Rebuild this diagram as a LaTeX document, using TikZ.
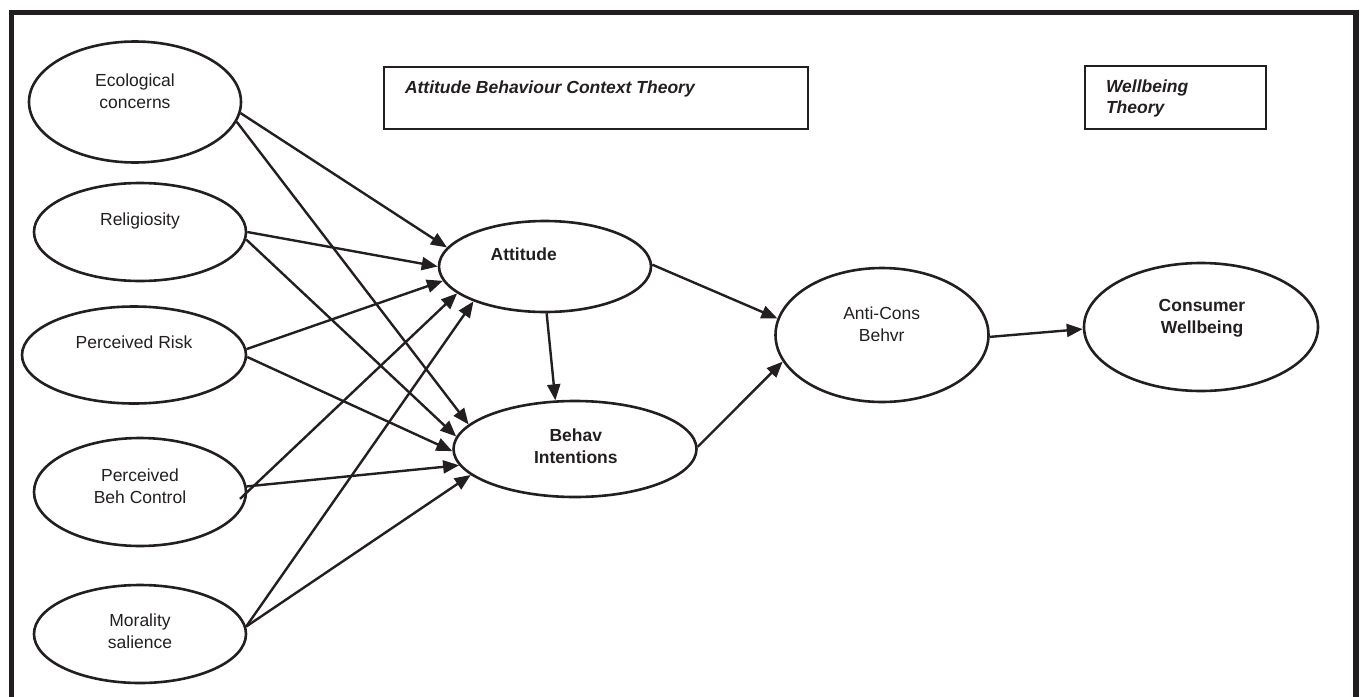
\documentclass[tikz,border=0pt]{standalone}
\usepackage{fontspec}
\setmainfont{Liberation Sans}
\usetikzlibrary{shapes.geometric,arrows.meta}
\definecolor{ink}{RGB}{35,31,32}
\begin{document}
\begin{tikzpicture}[x=1pt,y=-1pt,
  every node/.style={inner sep=0pt,outer sep=0pt,text=ink},
  ell/.style 2 args={ellipse,draw=ink,line width=2.6pt,outer sep=1.3pt,
    minimum width=#1,minimum height=#2},
  tbox/.style 2 args={rectangle,draw=ink,line width=1.4pt,
    minimum width=#1,minimum height=#2},
  lbl/.style={align=center,font=\fontsize{17.5}{22}\selectfont},
  blbl/.style={align=center,font=\fontsize{17.5}{22}\selectfont\bfseries},
  ttl/.style={align=left,anchor=west,font=\fontsize{17.5}{20.5}\selectfont\bfseries\itshape},
  arr/.style={draw=ink,line width=2.4pt,-{Triangle[length=16pt,width=13pt]}},
  frame/.style={draw=ink,line width=5.5pt}
]
\useasboundingbox (0,0) rectangle (1362,696);
% outer frame (open at the bottom)
\coordinate (fbl) at (11.5,710);
\coordinate (ftl) at (11.5,12.5);
\coordinate (ftr) at (1356,12.5);
\coordinate (fbr) at (1356,710);
\draw[frame] (fbl) -- (ftl) -- (ftr) -- (fbr);

% theory boxes
\node[tbox={424pt}{62pt}] (abctbox) at (596,98) {};
\node[ttl] (abct) at (405,89.6) {\strut Attitude Behaviour Context Theory};
\node[tbox={181pt}{63pt}] (wbtbox) at (1175.5,97.5) {};
\node[ttl] (wbt) at (1106,98.9) {\strut Wellbeing\\\strut Theory};

% ellipses
\node[ell={212pt}{121pt}] (eco) at (135,102) {};
\node[ell={212pt}{98pt}] (rel) at (140,232) {};
\node[ell={224pt}{97pt}] (risk) at (134,355) {};
\node[ell={212pt}{108pt}] (pbc) at (140,492) {};
\node[ell={212pt}{98pt}] (mor) at (140,634) {};
\node[ell={212pt}{91pt}] (att) at (545,266.5) {};
\node[ell={243pt}{96pt}] (beh) at (575,449) {};
\node[ell={213pt}{134pt}] (anti) at (882,335) {};
\node[ell={234pt}{128pt}] (cons) at (1201,327) {};

% labels
\node[lbl] (ecot) at (135,92.6) {\strut Ecological\\\strut concerns};
\node[lbl] (relt) at (140,220.6) {\strut Religiosity};
\node[lbl] (riskt) at (134,343.6) {\strut Perceived Risk};
\node[lbl] (pbct) at (140,487.6) {\strut Perceived\\\strut Beh Control};
\node[lbl] (mort) at (140,633) {\strut Morality\\\strut salience};
\node[blbl] (attt) at (523.7,255.6) {\strut Attitude};
\node[blbl] (beht) at (575.8,447.6) {\strut Behav\\\strut Intentions};
\node[lbl] (antit) at (881.7,326) {\strut Anti-Cons\\\strut Behvr};
\node[blbl] (const) at (1202,318) {\strut Consumer\\\strut Wellbeing};

% connectors
\draw[arr] (eco.-6) -- (att.169);
\draw[arr] (eco.-11) -- (beh.167);
\draw[arr] (rel.0) -- (att.180);
\draw[arr] (rel.-4) -- (beh.174);
\draw[arr] (risk.3) -- (att.188);
\draw[arr] (risk.-1) -- (beh.181);
\draw[arr,shorten <=-10pt] (pbc.0) -- (att.197);
\draw[arr] (pbc.3) -- (beh.188);
\draw[arr] (mor.4) -- (att.206);
\draw[arr] (mor.4) -- (beh.194);
\draw[arr] (att.272) -- (beh.112);
\draw[arr] (att.1) -- (anti.171);
\draw[arr] (beh.1) -- (anti.195);
\draw[arr] (anti.-1.5) -- (cons.181.5);
\end{tikzpicture}
\end{document}
